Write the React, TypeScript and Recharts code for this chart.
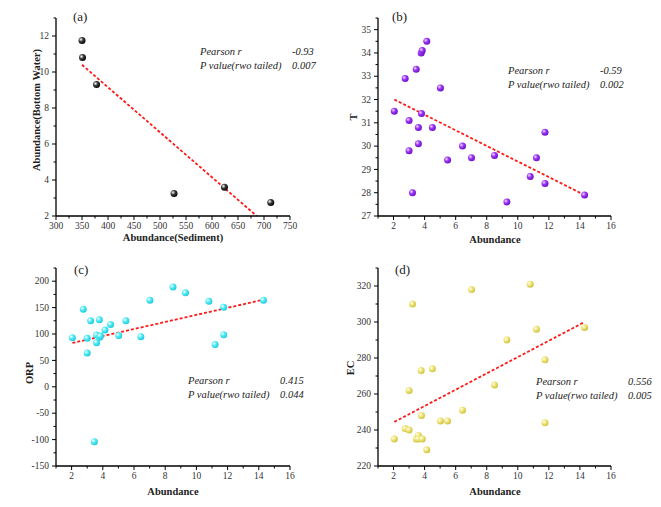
import React from "react";
import { ScatterChart, Scatter, XAxis, YAxis, ReferenceLine } from "recharts";

// (a) bottom water vs sediment
const sediment = [350, 351, 378, 527, 624, 713];
const bottomWater = [11.75, 10.8, 9.3, 3.25, 3.6, 2.75];

// (b)-(d) shared abundance values
const abundance = [
  2.05, 2.75, 3.0, 3.0, 3.22, 3.46, 3.6, 3.6, 3.78, 3.8, 3.85, 4.14, 4.5, 5.02,
  5.48, 6.44, 7.02, 8.5, 9.3, 10.8, 11.2, 11.75, 11.75, 14.3,
];
const temperature = [
  31.5, 32.9, 31.1, 29.8, 28.0, 33.3, 30.8, 30.1, 34.0, 31.4, 34.1, 34.5, 30.8,
  32.5, 29.4, 30.0, 29.5, 29.6, 27.6, 28.7, 29.5, 30.6, 28.4, 27.9,
];
const orp = [
  93, 147, 92, 64, 125, -104, 98, 83.5, 127, 93.7, 96, 107.6, 118, 97, 125, 95,
  164, 189, 178, 162, 80, 150.6, 98.7, 164,
];
const ec = [
  235, 240.8, 240, 262, 310, 235, 237, 235, 273, 248, 235, 229, 274, 245, 245,
  251, 318, 265, 290, 321, 296, 279, 244, 297,
];

// fitted lines
const fitA = [{ x: 350, y: 10.4 }, { x: 686, y: 2 }];
const fitB = [{ x: 2.05, y: 32.0 }, { x: 14.3, y: 27.9 }];
const fitC = [{ x: 2.05, y: 83 }, { x: 14.3, y: 165 }];
const fitD = [{ x: 2.05, y: 244.5 }, { x: 14.3, y: 300 }];

// ticks
const sedTicks = [300, 325, 350, 375, 400, 425, 450, 475, 500, 525, 550, 575, 600, 625, 650, 675, 700, 725, 750];
const sedMajor = [300, 350, 400, 450, 500, 550, 600, 650, 700, 750];
const bwTicks = [2, 3, 4, 5, 6, 7, 8, 9, 10, 11, 12, 13];
const bwMajor = [2, 4, 6, 8, 10, 12];
const abTicks = [1, 2, 3, 4, 5, 6, 7, 8, 9, 10, 11, 12, 13, 14, 15, 16];
const abMajor = [2, 4, 6, 8, 10, 12, 14, 16];
const tTicks = [27, 27.5, 28, 28.5, 29, 29.5, 30, 30.5, 31, 31.5, 32, 32.5, 33, 33.5, 34, 34.5, 35, 35.5];
const tMajor = [27, 28, 29, 30, 31, 32, 33, 34, 35];
const orpTicks = [-150, -125, -100, -75, -50, -25, 0, 25, 50, 75, 100, 125, 150, 175, 200, 225];
const orpMajor = [-150, -100, -50, 0, 50, 100, 150, 200];
const ecTicks = [220, 230, 240, 250, 260, 270, 280, 290, 300, 310, 320, 330];
const ecMajor = [220, 240, 260, 280, 300, 320];

const FONT = "Liberation Serif, serif";

const toPoints = (xs: number[], ys: number[]) => xs.map((x, i) => ({ x, y: ys[i] }));

const XTick = (props: any) => {
  const { x, y, payload, majors } = props;
  const major = majors.includes(payload.value);
  return (
    <g>
      <line x1={x} y1={y} x2={x} y2={y + (major ? 4 : 2.5)} stroke="#000" strokeWidth={1} />
      {major && (
        <text x={x} y={y + 12.5} textAnchor="middle" fontSize={9.5} fill="#333" fontFamily={FONT}>
          {payload.value}
        </text>
      )}
    </g>
  );
};

const YTick = (props: any) => {
  const { x, y, payload, majors } = props;
  const major = majors.includes(payload.value);
  return (
    <g>
      <line x1={x} y1={y} x2={x - (major ? 4 : 2.5)} y2={y} stroke="#000" strokeWidth={1} />
      {major && (
        <text x={x - 7} y={y + 3.2} textAnchor="end" fontSize={9.5} fill="#333" fontFamily={FONT}>
          {payload.value}
        </text>
      )}
    </g>
  );
};

const Ball = (id: string) => (p: any) => <circle cx={p.cx} cy={p.cy} r={3.5} fill={`url(#${id})`} />;

const Grad = ({ id, light, mid, dark }: { id: string; light: string; mid: string; dark: string }) => (
  <radialGradient id={id} cx="35%" cy="35%" r="70%">
    <stop offset="0%" stopColor={light} />
    <stop offset="45%" stopColor={mid} />
    <stop offset="100%" stopColor={dark} />
  </radialGradient>
);

const Panel = (props: any) => {
  const {
    left, top, width, height, yWidth, xHeight, right, points, fit, xDomain, yDomain,
    xTicks, xMajor, yTicks, yMajor, gradId, grad,
  } = props;
  return (
    <div style={{ position: "absolute", left, top }}>
      <ScatterChart width={width} height={height} margin={{ top: 18, right, left: 0, bottom: 0 }}>
        <defs>
          <Grad id={gradId} {...grad} />
        </defs>
        <XAxis
          type="number"
          dataKey="x"
          domain={xDomain}
          ticks={xTicks}
          interval={0}
          height={xHeight}
          tickSize={0}
          tickMargin={0}
          tickLine={false}
          axisLine={{ stroke: "#000", strokeWidth: 1.3 }}
          tick={(p: any) => <XTick {...p} majors={xMajor} />}
          allowDataOverflow
        />
        <YAxis
          type="number"
          dataKey="y"
          domain={yDomain}
          ticks={yTicks}
          interval={0}
          width={yWidth}
          tickSize={0}
          tickMargin={0}
          tickLine={false}
          axisLine={{ stroke: "#000", strokeWidth: 1.3 }}
          tick={(p: any) => <YTick {...p} majors={yMajor} />}
          allowDataOverflow
        />
        <ReferenceLine segment={fit} stroke="#ff1a1a" strokeWidth={1.8} strokeDasharray="3 2" />
        <Scatter data={points} shape={Ball(gradId)} isAnimationActive={false} />
      </ScatterChart>
    </div>
  );
};

const txt = (s: React.CSSProperties): React.CSSProperties => ({
  position: "absolute",
  fontFamily: FONT,
  color: "#222",
  whiteSpace: "nowrap",
  lineHeight: 1,
  ...s,
});

const Stats = ({ left, top, valueLeft, r, p }: any) => (
  <>
    <div style={txt({ left, top, fontSize: 10.5, fontStyle: "italic" })}>Pearson r</div>
    <div style={txt({ left: valueLeft, top, fontSize: 10.5, fontStyle: "italic" })}>{r}</div>
    <div style={txt({ left, top: top + 13.5, fontSize: 10.5, fontStyle: "italic" })}>P value(rwo tailed)</div>
    <div style={txt({ left: valueLeft, top: top + 13.5, fontSize: 10.5, fontStyle: "italic" })}>{p}</div>
  </>
);

const XTitle = ({ cx, top, children }: any) => (
  <div style={txt({ left: cx, top, fontSize: 10.5, fontWeight: "bold", transform: "translateX(-50%)" })}>
    {children}
  </div>
);

const YTitle = ({ cx, cy, children }: any) => (
  <div
    style={txt({
      left: cx,
      top: cy,
      fontSize: 10.5,
      fontWeight: "bold",
      transform: "translate(-50%, -50%) rotate(-90deg)",
    })}
  >
    {children}
  </div>
);

const Tag = ({ left, top, children }: any) => (
  <div style={txt({ left, top, fontSize: 13 })}>{children}</div>
);

export default function App() {
  return (
    <div style={{ position: "absolute", left: 0, top: 0, width: 661, height: 507, background: "#fff", overflow: "hidden" }}>
      <Panel
        left={0} top={0} width={330} height={250} yWidth={56} xHeight={34} right={40}
        points={toPoints(sediment, bottomWater)} fit={fitA}
        xDomain={[300, 750]} yDomain={[2, 13]}
        xTicks={sedTicks} xMajor={sedMajor} yTicks={bwTicks} yMajor={bwMajor}
        gradId="gA" grad={{ light: "#ffffff", mid: "#3a3a3a", dark: "#000000" }}
      />
      <Panel
        left={330} top={0} width={331} height={250} yWidth={48} xHeight={34} right={50}
        points={toPoints(abundance, temperature)} fit={fitB}
        xDomain={[1, 16]} yDomain={[27, 35.5]}
        xTicks={abTicks} xMajor={abMajor} yTicks={tTicks} yMajor={tMajor}
        gradId="gB" grad={{ light: "#f0ddff", mid: "#9a33f5", dark: "#6a10c8" }}
      />
      <Panel
        left={0} top={250} width={330} height={257} yWidth={56} xHeight={41} right={40}
        points={toPoints(abundance, orp)} fit={fitC}
        xDomain={[1, 16]} yDomain={[-150, 225]}
        xTicks={abTicks} xMajor={abMajor} yTicks={orpTicks} yMajor={orpMajor}
        gradId="gC" grad={{ light: "#ffffff", mid: "#4eeaf5", dark: "#1fc8dc" }}
      />
      <Panel
        left={330} top={250} width={331} height={257} yWidth={48} xHeight={41} right={50}
        points={toPoints(abundance, ec)} fit={fitD}
        xDomain={[1, 16]} yDomain={[220, 330]}
        xTicks={abTicks} xMajor={abMajor} yTicks={ecTicks} yMajor={ecMajor}
        gradId="gD" grad={{ light: "#ffffe8", mid: "#eee57a", dark: "#cdbf3a" }}
      />

      <Tag left={73} top={10}>(a)</Tag>
      <Tag left={392} top={10}>(b)</Tag>
      <Tag left={74} top={263}>(c)</Tag>
      <Tag left={395} top={263}>(d)</Tag>

      <Stats left={200} top={47} valueLeft={292} r="-0.93" p="0.007" />
      <Stats left={508} top={66} valueLeft={600} r="-0.59" p="0.002" />
      <Stats left={188} top={376} valueLeft={280} r="0.415" p="0.044" />
      <Stats left={536} top={377} valueLeft={628} r="0.556" p="0.005" />

      <XTitle cx={173} top={233}>Abundance(Sediment)</XTitle>
      <XTitle cx={495} top={235}>Abundance</XTitle>
      <XTitle cx={173} top={487}>Abundance</XTitle>
      <XTitle cx={495} top={487}>Abundance</XTitle>

      <YTitle cx={37} cy={110}>Abundance(Bottom Water)</YTitle>
      <YTitle cx={354} cy={117}>T</YTitle>
      <YTitle cx={30} cy={373}>ORP</YTitle>
      <YTitle cx={351} cy={368}>EC</YTitle>
    </div>
  );
}
